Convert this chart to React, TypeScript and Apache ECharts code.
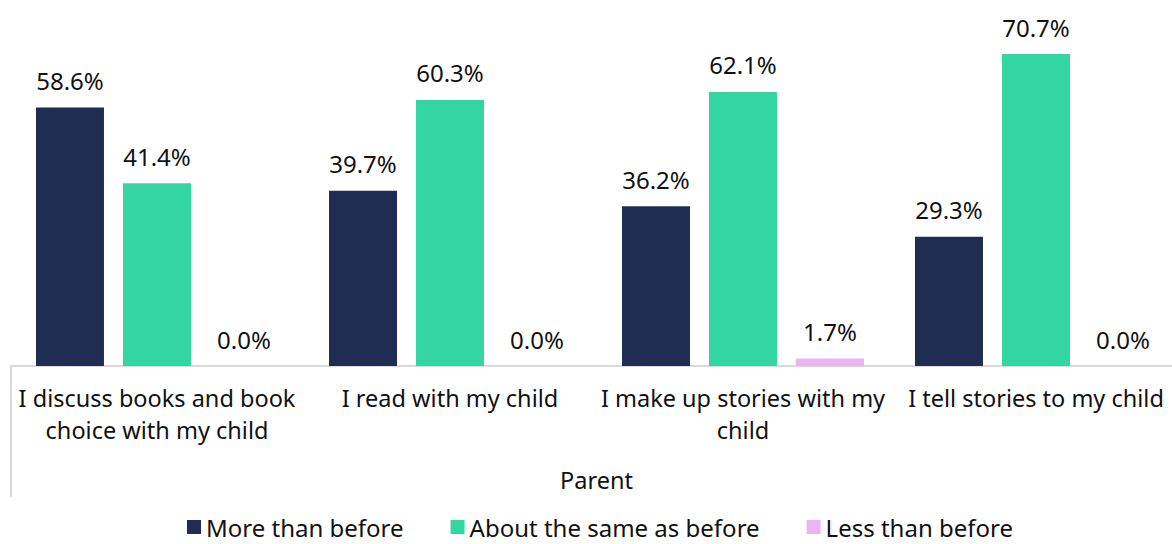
import React, { useEffect, useRef } from "react";
import * as echarts from "echarts";

const categories = [
  "I discuss books and book\nchoice with my child",
  "I read with my child",
  "I make up stories with my\nchild",
  "I tell stories to my child",
];
const seriesNames = ["More than before", "About the same as before", "Less than before"];
const moreThanBefore = [58.6, 39.7, 36.2, 29.3];
const aboutTheSame = [41.4, 60.3, 62.1, 70.7];
const lessThanBefore = [0.0, 0.0, 1.7, 0.0];
const colors = ["#1f2d53", "#33d6a0", "#ecb4f2"];
const axisName = "Parent";

const FONT = "Noto Sans";

export default function App() {
  const ref = useRef<HTMLDivElement>(null);
  useEffect(() => {
    document.body.style.margin = "0";
    const chart = echarts.init(ref.current!, null, { renderer: "svg" });
    const label = {
      show: true,
      position: "top",
      distance: 15,
      fontSize: 24,
      fontFamily: FONT,
      color: "#111",
      formatter: (p: any) => p.value.toFixed(1) + "%",
    };
    const values = [moreThanBefore, aboutTheSame, lessThanBefore];
    chart.setOption({
      animation: false,
      textStyle: { fontFamily: FONT },
      grid: { left: 10.5, width: 1172, top: 13, height: 353, containLabel: false },
      legend: {
        top: 510,
        left: "center",
        icon: "rect",
        itemWidth: 14,
        itemHeight: 14,
        itemGap: 47,
        textStyle: { fontSize: 24, fontFamily: FONT, color: "#111" },
        data: seriesNames,
      },
      xAxis: {
        type: "category",
        data: categories,
        name: axisName,
        nameLocation: "middle",
        nameGap: 102,
        nameTextStyle: { fontSize: 23.5, fontFamily: FONT, color: "#111" },
        axisLine: { show: true, lineStyle: { color: "#d9d9d9", width: 2 } },
        axisTick: {
          show: true,
          length: 131,
          interval: (i: number) => i === 0,
          lineStyle: { color: "#d9d9d9", width: 2 },
        },
        axisLabel: {
          fontSize: 23.5,
          fontFamily: FONT,
          color: "#111",
          lineHeight: 32,
          margin: 16,
          interval: 0,
        },
      },
      yAxis: {
        type: "value",
        min: 0,
        max: 80,
        show: false,
        splitLine: { show: false },
      },
      series: seriesNames.map((name, i) => ({
        name,
        type: "bar",
        data: values[i],
        barWidth: "23.2%",
        barGap: "28%",
        itemStyle: { color: colors[i] },
        label,
      })),
    });
    return () => chart.dispose();
  }, []);
  return (
    <div style={{ width: 1172, height: 544, overflow: "hidden", position: "relative" }}>
      <div ref={ref} style={{ width: 1200, height: 544 }} />
    </div>
  );
}
